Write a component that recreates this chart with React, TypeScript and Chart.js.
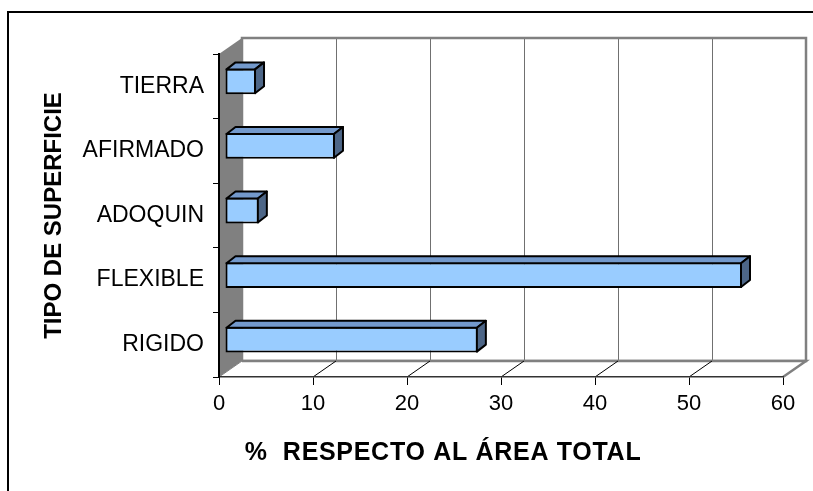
import React, { useEffect, useRef } from 'react';
import { Chart, registerables } from 'chart.js';

Chart.register(...registerables);

// ---- data ----
const categories = ['TIERRA', 'AFIRMADO', 'ADOQUIN', 'FLEXIBLE', 'RIGIDO'];
const percentValues = [3.3, 11.7, 3.6, 55.0, 26.9];
const xTickMin = 0;
const xTickMax = 60;
const xTickStep = 10;
const xAxisTitle = '%  RESPECTO AL ÁREA TOTAL';
const yAxisTitle = 'TIPO DE SUPERFICIE';

// ---- styling ----
const FONT = "'Liberation Sans', Arial, sans-serif";
const W = 813;
const H = 491;
const DX = 23; // depth of the 3D box
const DY = -16;
const BAR_OFF_X = 6; // bar position inside depth
const BAR_OFF_Y = -5;
const BAR_DX = 9; // bar depth
const BAR_DY = -7;

const threeDPlugin = {
  id: 'threeD',
  beforeDraw(chart: any) {
    const { ctx, chartArea: a, scales } = chart;
    const xs = scales.x;
    ctx.save();
    ctx.fillStyle = '#fff';
    ctx.fillRect(0, 0, W, H);
    // outer frame (partly cropped)
    ctx.strokeStyle = '#000';
    ctx.lineWidth = 2;
    ctx.beginPath();
    ctx.moveTo(8, H + 2);
    ctx.lineTo(8, 12);
    ctx.lineTo(W + 2, 12);
    ctx.stroke();

    const bl = a.left + DX, bt = a.top + DY, br = a.right + DX, bb = a.bottom + DY;
    // back wall
    ctx.fillStyle = '#fff';
    ctx.fillRect(bl, bt, br - bl, bb - bt);
    ctx.strokeStyle = '#707070';
    ctx.lineWidth = 1;
    for (let v = xTickMin + xTickStep; v < xTickMax; v += xTickStep) {
      const px = Math.round(xs.getPixelForValue(v) + DX) + 0.5;
      ctx.beginPath();
      ctx.moveTo(px, bt);
      ctx.lineTo(px, bb);
      ctx.stroke();
    }
    ctx.strokeStyle = '#808080';
    ctx.lineWidth = 2.5;
    ctx.strokeRect(bl, bt, br - bl, bb - bt);

    // left wall
    ctx.fillStyle = '#808080';
    ctx.beginPath();
    ctx.moveTo(a.left, a.top);
    ctx.lineTo(bl, bt);
    ctx.lineTo(bl, bb);
    ctx.lineTo(a.left, a.bottom);
    ctx.closePath();
    ctx.fill();

    // floor
    ctx.fillStyle = '#fff';
    ctx.beginPath();
    ctx.moveTo(a.left, a.bottom);
    ctx.lineTo(a.right, a.bottom);
    ctx.lineTo(br, bb);
    ctx.lineTo(bl, bb);
    ctx.closePath();
    ctx.fill();
    ctx.strokeStyle = '#808080';
    ctx.lineWidth = 2.5;
    ctx.beginPath();
    ctx.moveTo(bl, bb);
    ctx.lineTo(br, bb);
    ctx.lineTo(a.right, a.bottom);
    ctx.stroke();
    // floor grid diagonals
    ctx.strokeStyle = '#000';
    ctx.lineWidth = 1;
    for (let v = xTickMin + xTickStep; v < xTickMax; v += xTickStep) {
      const px = xs.getPixelForValue(v);
      ctx.beginPath();
      ctx.moveTo(px, a.bottom);
      ctx.lineTo(px + DX, bb);
      ctx.stroke();
    }
    // left wall bottom diagonal
    ctx.strokeStyle = '#808080';
    ctx.beginPath();
    ctx.moveTo(a.left, a.bottom);
    ctx.lineTo(bl, bb);
    ctx.stroke();
    ctx.restore();
  },
  beforeDatasetsDraw(chart: any) {
    chart.ctx.save();
    chart.ctx.translate(BAR_OFF_X, BAR_OFF_Y);
  },
  afterDatasetsDraw(chart: any) {
    const ctx = chart.ctx;
    const meta = chart.getDatasetMeta(0);
    ctx.lineWidth = 2;
    ctx.strokeStyle = '#000';
    ctx.lineJoin = 'round';
    meta.data.forEach((bar: any) => {
      const { x, y, base, height } = bar.getProps(['x', 'y', 'base', 'height'], true);
      const x0 = Math.min(base, x) + 1;
      const x1 = Math.max(base, x) - 1;
      const yT = y - height / 2 + 1;
      const yB = y + height / 2 - 1;
      // top face
      ctx.fillStyle = '#7399CC';
      ctx.beginPath();
      ctx.moveTo(x0, yT);
      ctx.lineTo(x0 + BAR_DX, yT + BAR_DY);
      ctx.lineTo(x1 + BAR_DX, yT + BAR_DY);
      ctx.lineTo(x1, yT);
      ctx.closePath();
      ctx.fill();
      ctx.stroke();
      // side face
      ctx.fillStyle = '#4D6687';
      ctx.beginPath();
      ctx.moveTo(x1, yT);
      ctx.lineTo(x1 + BAR_DX, yT + BAR_DY);
      ctx.lineTo(x1 + BAR_DX, yB + BAR_DY);
      ctx.lineTo(x1, yB);
      ctx.closePath();
      ctx.fill();
      ctx.stroke();
    });
    ctx.restore();
  },
  afterDraw(chart: any) {
    const ctx = chart.ctx;
    ctx.save();
    ctx.fillStyle = '#000';
    ctx.font = `bold 25px ${FONT}`;
    (ctx as any).letterSpacing = '0.7px';
    ctx.textAlign = 'center';
    ctx.textBaseline = 'alphabetic';
    ctx.fillText(xAxisTitle, 443, 460);
    ctx.restore();
  },
};

export default function App() {
  const ref = useRef<HTMLCanvasElement | null>(null);
  useEffect(() => {
    if (!ref.current) return;
    const chart = new Chart(ref.current, {
      type: 'bar',
      data: {
        labels: categories,
        datasets: [
          {
            data: percentValues,
            backgroundColor: '#99CCFF',
            borderColor: '#000',
            borderWidth: 2,
            borderSkipped: false,
            categoryPercentage: 1,
            barPercentage: 0.4,
          },
        ],
      },
      options: {
        indexAxis: 'y',
        responsive: false,
        animation: false,
        events: [],
        layout: { padding: { top: 54, right: 30, bottom: 0, left: 0 } },
        plugins: { legend: { display: false }, tooltip: { enabled: false }, title: { display: false } },
        scales: {
          x: {
            type: 'linear',
            min: xTickMin,
            max: xTickMax,
            ticks: { stepSize: xTickStep, color: '#000', font: { family: FONT, size: 22 }, padding: 6, maxRotation: 0 },
            grid: { drawOnChartArea: false, drawTicks: true, tickLength: 8, color: '#000', lineWidth: 1 },
            border: { display: true, color: '#333', width: 1.5 },
            afterFit: (s: any) => {
              s.height = 114;
            },
          },
          y: {
            type: 'category',
            ticks: { color: '#000', font: { family: FONT, size: 23 }, padding: 9 },
            grid: { drawOnChartArea: false, drawTicks: true, tickLength: 6, color: '#000', lineWidth: 1, offset: true },
            border: { display: true, color: '#000', width: 2 },
            title: {
              display: true,
              text: yAxisTitle,
              color: '#000',
              font: { family: FONT, size: 24, weight: 'bold', lineHeight: 1.2 },
              padding: { top: 40, bottom: 0 },
            },
            afterFit: (s: any) => {
              s.width = 219;
            },
          },
        },
      },
      plugins: [threeDPlugin],
    } as any);
    return () => chart.destroy();
  }, []);
  return (
    <div style={{ position: 'absolute', left: 0, top: 0, width: W, height: H }}>
      <canvas ref={ref} width={W} height={H} style={{ display: 'block', width: W, height: H }} />
    </div>
  );
}
